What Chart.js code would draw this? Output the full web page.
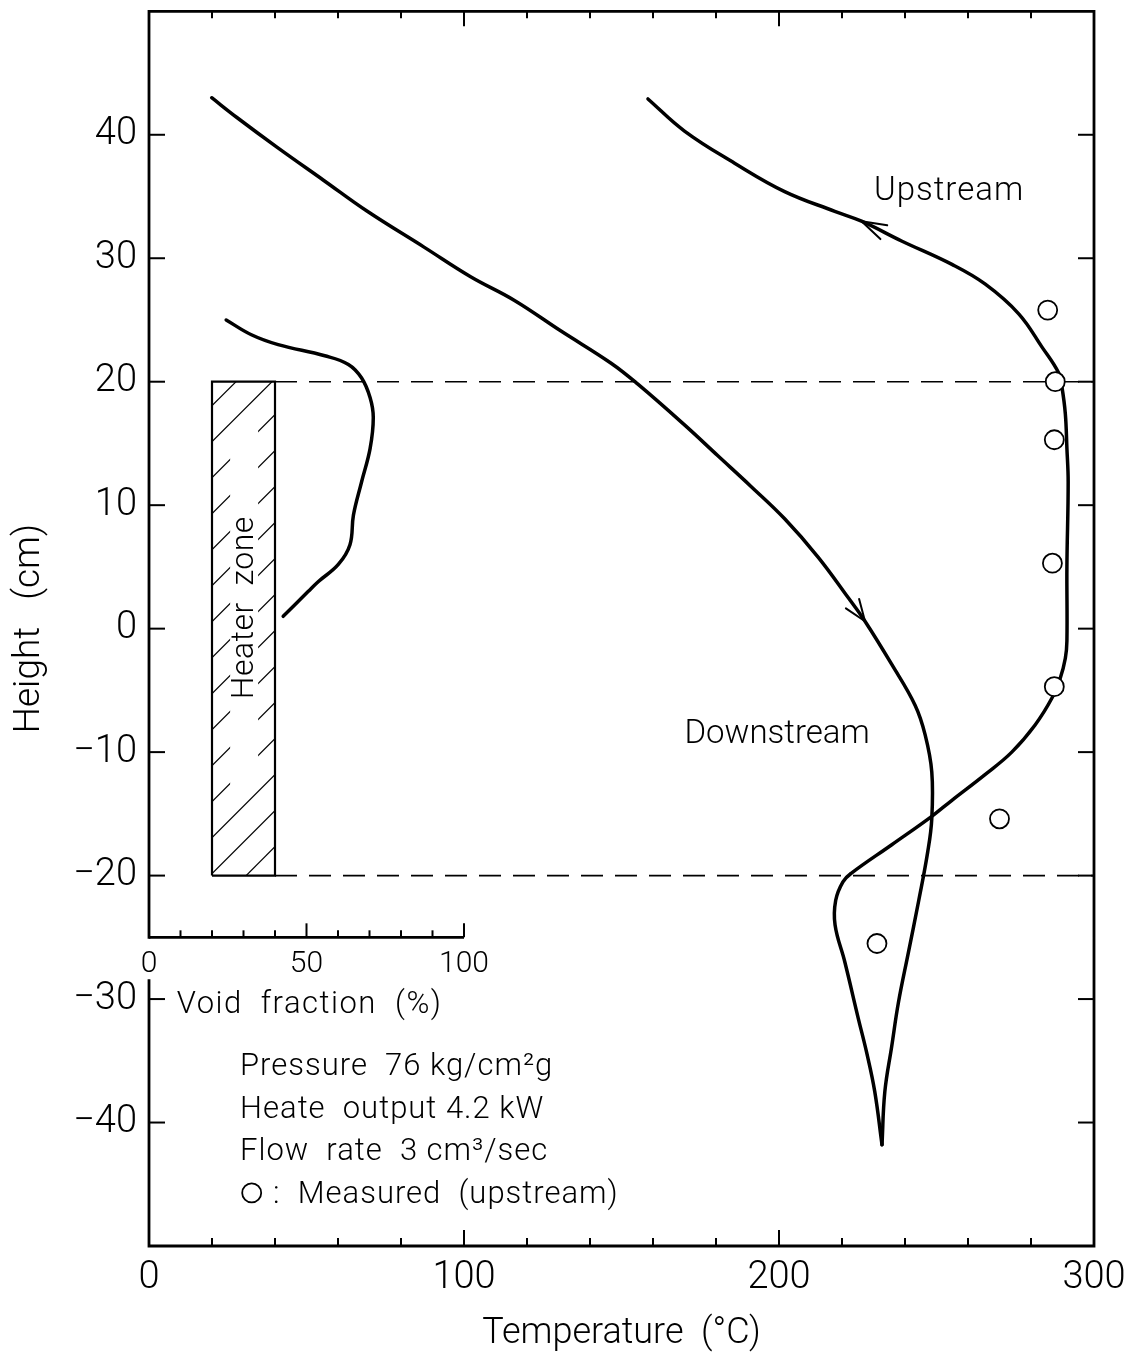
<!DOCTYPE html>
<html>
<head>
<meta charset="utf-8">
<title>Temperature and void fraction profiles</title>
<script src="https://cdn.jsdelivr.net/npm/chart.js@4.4.1/dist/chart.umd.min.js"></script>
<style>
  html, body { margin: 0; padding: 0; background: #fff; }
  canvas { display: block; }
</style>
</head>
<body>
<canvas id="chart" width="1136" height="1357"></canvas>
<script>
// ---- data -------------------------------------------------------------
// Downstream temperature profile, top of the column to the bottom tip
const downstreamTemp = [19.9, 27.9, 40.6, 55.5, 69.3, 87.3, 102.1, 115.9, 130.8, 146.7,
  155.2, 170.0, 180.6, 191.2, 201.8, 212.4, 222.0, 227.3, 235.8, 243.2,
  246.4, 248.5, 248.5, 247.2, 244.3, 241.1, 237.9, 235.8, 233.6, 232.7];
const downstreamHeight = [43.0, 41.4, 39.0, 36.3, 33.8, 30.9, 28.5, 26.6, 24.1, 21.5,
  19.8, 16.5, 14.0, 11.5, 8.9, 5.8, 2.5, 0.6, -2.9, -6.2,
  -8.6, -11.6, -15.4, -18.1, -22.1, -26.2, -30.3, -33.8, -37.5, -41.8];

// Upstream temperature profile, bottom tip up to the top of the column
const upstreamTemp = [232.7, 230.4, 227.8, 225.2, 220.9, 217.8, 218.0, 220.3, 223.0, 235.8,
  248.5, 254.9, 265.5, 273.9, 281.3, 286.7, 289.3, 290.9, 291.4, 291.4,
  291.8, 291.4, 290.9, 289.8, 288.8, 283.5, 276.1, 265.5, 254.9, 238.9,
  226.2, 217.7, 201.8, 185.9, 170.0, 158.4];
const upstreamHeight = [-41.8, -37.5, -34.3, -31.6, -27.0, -24.0, -22.0, -20.5, -19.8, -17.5,
  -15.2, -13.9, -11.8, -10.0, -7.8, -5.6, -4.0, -2.4, -1.0, 5.0,
  11.9, 14.6, 17.4, 19.6, 20.7, 22.8, 25.5, 27.9, 29.5, 31.4,
  33.0, 33.8, 35.4, 37.7, 40.3, 42.9];

// Measured upstream temperatures
const measuredTemp = [285.3, 287.7, 287.4, 286.8, 287.4, 270.0, 231.1];
const measuredHeight = [25.8, 20.0, 15.3, 5.3, -4.7, -15.4, -25.5];

// Void fraction profile (%)
const voidFraction = [24.5, 32.5, 41.0, 55.8, 63.3, 67.5, 70.2, 71.2, 70.2, 67.5,
  64.9, 63.8, 60.1, 53.7, 50.5, 42.6];
const voidHeight = [25.0, 23.8, 23.0, 22.1, 21.4, 20.3, 18.7, 17.1, 14.6, 11.9,
  9.2, 6.8, 5.2, 3.8, 3.0, 1.0];

// Heater zone: void-fraction span and height span
const heaterVoid = [20, 40];
const heaterHeight = [-20, 20];

// Tick values
const heightTicks = [40, 30, 20, 10, 0, -10, -20, -30, -40];
const tempTicks = [0, 100, 200, 300];
const tempMinorTicks = [20, 40, 60, 80, 120, 140, 160, 180, 220, 240, 260, 280];
const voidTicks = [0, 50, 100];
const voidMinorTicks = [10, 20, 30, 40, 60, 70, 80, 90];

// ---- helpers ----------------------------------------------------------
const FAMILY = "Roboto, 'Liberation Sans', sans-serif";
const WEIGHT = '300';
const pairs = (xs, ys) => xs.map((v, i) => ({ x: v, y: ys[i] }));

const heaterBox = [
  { x: heaterVoid[0], y: heaterHeight[0] },
  { x: heaterVoid[1], y: heaterHeight[0] },
  { x: heaterVoid[1], y: heaterHeight[1] },
  { x: heaterVoid[0], y: heaterHeight[1] },
  { x: heaterVoid[0], y: heaterHeight[0] }
];

// ---- hatching inside the heater zone (drawn under the datasets) ---------
const heaterHatch = {
  id: 'heaterHatch',
  beforeDatasetsDraw(chart) {
    const { ctx, scales: { xv, y } } = chart;
    const l = xv.getPixelForValue(heaterVoid[0]), r = xv.getPixelForValue(heaterVoid[1]);
    const t = y.getPixelForValue(heaterHeight[1]), b = y.getPixelForValue(heaterHeight[0]);
    ctx.save();
    ctx.beginPath();
    ctx.rect(l, t, r - l, b - t);
    ctx.clip();
    ctx.strokeStyle = '#000';
    ctx.lineWidth = 1.2;
    const step = 36;
    for (let c = l + t + 24 - step * 2; c < r + b + step; c += step) {
      ctx.beginPath();
      ctx.moveTo(l - 5, c - (l - 5));
      ctx.lineTo(r + 5, c - (r + 5));
      ctx.stroke();
    }
    ctx.restore();
  }
};

// ---- decorations: frame, inward ticks, inset axis, arrows, notes -------
const decorations = {
  id: 'decorations',
  afterDatasetsDraw(chart) {
    const { ctx, chartArea: a, scales } = chart;
    const x = scales.x, y = scales.y, xv = scales.xv;
    const X = v => x.getPixelForValue(v);
    const XV = v => xv.getPixelForValue(v);
    const Y = v => y.getPixelForValue(v);
    const seg = (x1, y1, x2, y2) => { ctx.beginPath(); ctx.moveTo(x1, y1); ctx.lineTo(x2, y2); ctx.stroke(); };

    ctx.save();
    ctx.strokeStyle = '#000';
    ctx.fillStyle = '#000';
    ctx.lineCap = 'square';

    // plot frame; the left edge pauses under the inset's "0" label
    ctx.lineWidth = 2.8;
    ctx.beginPath();
    ctx.moveTo(a.left, Y(-25));
    ctx.lineTo(a.left, a.top);
    ctx.lineTo(a.right, a.top);
    ctx.lineTo(a.right, a.bottom);
    ctx.lineTo(a.left, a.bottom);
    ctx.lineTo(a.left, Y(-28.5));
    ctx.stroke();

    // inward tick marks
    ctx.lineWidth = 2;
    ctx.lineCap = 'butt';
    heightTicks.forEach(v => {
      seg(a.left, Y(v), a.left + 16, Y(v));
      seg(a.right, Y(v), a.right - 16, Y(v));
    });
    tempMinorTicks.forEach(v => {
      seg(X(v), a.bottom, X(v), a.bottom - 8);
      seg(X(v), a.top, X(v), a.top + 7);
    });
    tempTicks.slice(1, -1).forEach(v => {
      seg(X(v), a.bottom, X(v), a.bottom - 16);
      seg(X(v), a.top, X(v), a.top + 15);
    });

    // void fraction inset axis
    const iy = Y(-25);
    ctx.lineWidth = 2.8;
    seg(XV(0), iy, XV(100), iy);
    ctx.lineWidth = 2;
    voidMinorTicks.forEach(v => seg(XV(v), iy, XV(v), iy - 7));
    voidTicks.slice(1).forEach(v => seg(XV(v), iy, XV(v), iy - 14));
    ctx.font = `${WEIGHT} 30px ${FAMILY}`;
    ctx.textAlign = 'center';
    ctx.textBaseline = 'alphabetic';
    voidTicks.forEach(v => ctx.fillText(String(v), XV(v), Y(-27.8)));
    ctx.textAlign = 'left';
    ctx.font = `${WEIGHT} 31px ${FAMILY}`;
    ctx.letterSpacing = '1.5px';
    ctx.fillText('Void  fraction  (%)', XV(8.8), Y(-31.1));

    // flow direction arrows
    const arrow = (tip, from, len, half) => {
      const tx = X(tip[0]), ty = Y(tip[1]);
      const ang = Math.atan2(Y(from[1]) - ty, X(from[0]) - tx);
      ctx.lineWidth = 2;
      ctx.lineCap = 'round';
      [ang - half, ang + half].forEach(t => seg(tx, ty, tx + len * Math.cos(t), ty + len * Math.sin(t)));
    };
    arrow([226.2, 33.0], [238.9, 31.4], 26, 0.3);
    arrow([227.3, 0.6], [222.0, 2.5], 23, 0.36);

    // heater zone label (rotated), hatching cleared behind it
    const hx = XV(30.2), hy = Y(1.7);
    ctx.fillStyle = '#fff';
    ctx.fillRect(hx - 14, Y(16.2), 28, Y(-12.8) - Y(16.2));
    ctx.fillStyle = '#000';
    ctx.save();
    ctx.translate(hx, hy);
    ctx.rotate(-Math.PI / 2);
    ctx.font = `${WEIGHT} 32px ${FAMILY}`;
    ctx.letterSpacing = '0.5px';
    ctx.textAlign = 'center';
    ctx.textBaseline = 'middle';
    ctx.fillText('Heater  zone', 0, 1);
    ctx.restore();

    // curve labels
    ctx.font = `${WEIGHT} 33px ${FAMILY}`;
    ctx.letterSpacing = '1px';
    ctx.textAlign = 'center';
    ctx.textBaseline = 'alphabetic';
    ctx.fillText('Upstream', X(254), Y(34.7));
    ctx.letterSpacing = '0px';
    ctx.fillText('Downstream', X(199.4), Y(-9.3));

    // experimental conditions
    ctx.font = `${WEIGHT} 31px ${FAMILY}`;
    ctx.letterSpacing = '1px';
    ctx.textAlign = 'left';
    ctx.fillText('Pressure  76 kg/cm²g', X(28.9), Y(-36.15));
    ctx.fillText('Heate  output 4.2 kW', X(28.9), Y(-39.6));
    ctx.fillText('Flow  rate  3 cm³/sec', X(28.9), Y(-43.0));
    ctx.fillText(':  Measured  (upstream)', X(39.4), Y(-46.5));
    ctx.lineWidth = 1.8;
    ctx.beginPath();
    ctx.arc(X(32.6), Y(-45.7), 9.5, 0, Math.PI * 2);
    ctx.stroke();

    ctx.restore();
  }
};

// ---- chart ------------------------------------------------------------
const lineStyle = {
  showLine: true, pointRadius: 0, borderColor: '#000', borderWidth: 3.5,
  tension: 0.4, fill: false, order: 2, borderJoinStyle: 'round', borderCapStyle: 'round'
};

// keep the plot area fixed: no extra room for the outermost tick labels
function noLabelOverflow(s) {
  s.paddingTop = 0; s.paddingBottom = 0; s.paddingLeft = 0; s.paddingRight = 0;
}
const minusSign = v => String(v).replace('-', '\u2212');

new Chart(document.getElementById('chart'), {
  type: 'scatter',
  data: {
    datasets: [
      {
        label: 'Measured (upstream)',
        data: pairs(measuredTemp, measuredHeight),
        pointRadius: 9.5, pointBorderWidth: 1.8,
        pointBorderColor: '#000', pointBackgroundColor: '#fff',
        order: 0
      },
      { label: 'Downstream', data: pairs(downstreamTemp, downstreamHeight), ...lineStyle },
      { label: 'Upstream', data: pairs(upstreamTemp, upstreamHeight), ...lineStyle },
      { label: 'Void fraction', data: pairs(voidFraction, voidHeight), xAxisID: 'xv', ...lineStyle },
      {
        label: 'Heater zone', data: heaterBox, xAxisID: 'xv',
        showLine: true, pointRadius: 0, borderColor: '#000', borderWidth: 2.2,
        tension: 0, fill: false, order: 3
      },
      {
        label: 'Heater top', data: [{ x: heaterVoid[1], y: heaterHeight[1] }, { x: 300, y: heaterHeight[1] }],
        xAxisID: 'xv', showLine: true, pointRadius: 0, borderColor: '#000', borderWidth: 1.6,
        borderDash: [22, 12], tension: 0, order: 4
      },
      {
        label: 'Heater bottom', data: [{ x: heaterVoid[1], y: heaterHeight[0] }, { x: 300, y: heaterHeight[0] }],
        xAxisID: 'xv', showLine: true, pointRadius: 0, borderColor: '#000', borderWidth: 1.6,
        borderDash: [22, 12], tension: 0, order: 4
      }
    ]
  },
  options: {
    responsive: false,
    animation: false,
    devicePixelRatio: 1,
    events: [],
    layout: { padding: { left: 0, top: 11, right: 42, bottom: 0 } },
    plugins: { legend: { display: false }, tooltip: { enabled: false } },
    scales: {
      x: {
        type: 'linear', position: 'bottom', min: 0, max: 300,
        afterFit(s) { s.height = 111; noLabelOverflow(s); },
        afterBuildTicks(s) { s.ticks = tempTicks.map(v => ({ value: v })); },
        grid: { display: false, drawTicks: false },
        border: { display: false },
        ticks: {
          padding: 10, color: '#000', maxRotation: 0, autoSkip: false,
          font: { family: FAMILY, size: 38, weight: WEIGHT }
        },
        title: {
          display: true, text: 'Temperature  (°C)', color: '#000',
          font: { family: FAMILY, size: 36, weight: WEIGHT },
          padding: { top: 0, bottom: 1 }
        }
      },
      // void fraction shares the horizontal pixel grid: 0–100 % spans 0–100 °C
      xv: { type: 'linear', position: 'bottom', min: 0, max: 300, display: false },
      y: {
        type: 'linear', position: 'left', min: -50, max: 50,
        afterFit(s) { s.width = 149; noLabelOverflow(s); },
        afterBuildTicks(s) { s.ticks = heightTicks.map(v => ({ value: v })); },
        grid: { display: false, drawTicks: false },
        border: { display: false },
        ticks: {
          padding: 12, color: '#000', autoSkip: false,
          font: { family: FAMILY, size: 38, weight: WEIGHT },
          callback: minusSign
        },
        title: {
          display: true, text: 'Height   (cm)', color: '#000',
          font: { family: FAMILY, size: 37, weight: WEIGHT },
          padding: { top: 8, bottom: 0 }
        }
      }
    }
  },
  plugins: [heaterHatch, decorations]
});
</script>
</body>
</html>
